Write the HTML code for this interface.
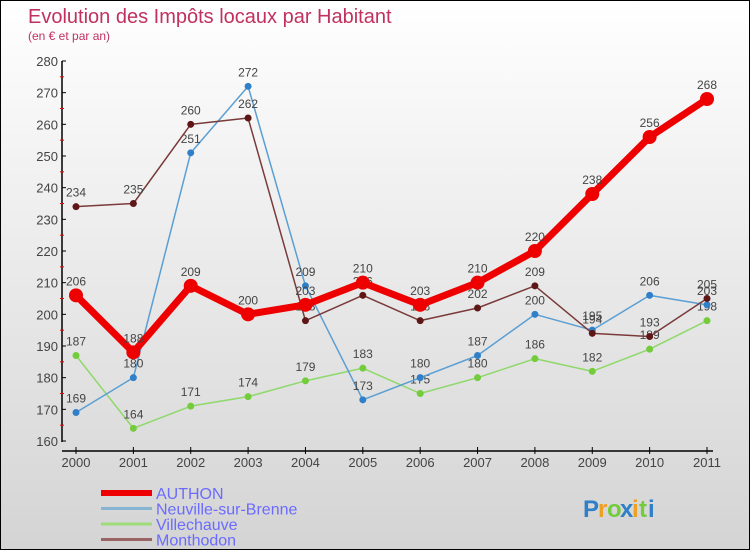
<!DOCTYPE html>
<html><head><meta charset="utf-8"><style>
body{margin:0;}
#c{width:750px;height:550px;position:relative;box-sizing:border-box;border:1px solid #000;background:linear-gradient(#fff,#d4d4d4);font-family:"Liberation Sans",sans-serif;overflow:hidden}
svg{position:absolute;left:0;top:0}
</style></head><body>
<div id="c">
<svg id="s" width="750" height="550">
<text x="27" y="22" font-size="20" fill="#c0315f">Evolution des Impôts locaux par Habitant</text>
<text x="27" y="39" font-size="12" fill="#c0315f">(en € et par an)</text>
</svg>
</div>
<script>
const years=["2000","2001","2002","2003","2004","2005","2006","2007","2008","2009","2010","2011"];
const authon=[206,188,209,200,203,210,203,210,220,238,256,268];
const neuville=[169,180,251,272,209,173,180,187,200,195,206,203];
const villechauve=[187,164,171,174,179,183,175,180,186,182,189,198];
const monthodon=[234,235,260,262,198,206,198,202,209,194,193,205];
const yTicks=[160,170,180,190,200,210,220,230,240,250,260,270,280];
const NS="http://www.w3.org/2000/svg";
const s=document.getElementById('s');
function X(i){return 75+i*(706-75)/(years.length-1);}
function Y(v){return 440-(v-160)*380/120;}
function el(t,a,txt){const e=document.createElementNS(NS,t);for(const k in a)e.setAttribute(k,a[k]);if(txt!==undefined)e.textContent=txt;s.appendChild(e);return e;}
let e;
e=el('line',{x1:61,y1:60,x2:61,y2:441,stroke:'#000','stroke-width':1.5});


e=el('line',{x1:61,y1:450,x2:712,y2:450,stroke:'#000','stroke-width':1.5});


yTicks.forEach((v,i)=>{
 e=el('line',{x1:61,y1:Y(v),x2:65,y2:Y(v),stroke:'#000'});
 
 
 e=el('text',{x:57,y:Y(v)+5,'font-size':13,fill:'#444','text-anchor':'end'},v);
 
 
 if(i<yTicks.length-1){
  e=el('line',{x1:59,y1:Y(v+5),x2:63,y2:Y(v+5),stroke:'#e00'});
  
  
 }
});
years.forEach((y,i)=>{
 e=el('line',{x1:X(i),y1:446,x2:X(i),y2:453,stroke:'#000'});
 
 
 e=el('text',{x:X(i),y:466,'font-size':13,fill:'#444','text-anchor':'middle'},y);
 
 
});
function series(data,color,w,r,name,dot){
 const g=el('g',{});
 
 
 const p=document.createElementNS(NS,'polyline');
 p.setAttribute('points',data.map((v,i)=>X(i)+','+Y(v)).join(' '));
 p.setAttribute('fill','none');p.setAttribute('stroke',color);p.setAttribute('stroke-width',w);p.setAttribute('stroke-linejoin','round');
 
 
 g.appendChild(p);
 data.forEach((v,i)=>{
  const c=document.createElementNS(NS,'circle');
  c.setAttribute('cx',X(i));c.setAttribute('cy',Y(v));c.setAttribute('r',r);c.setAttribute('fill',dot);
  
  
  g.appendChild(c);
  const t=document.createElementNS(NS,'text');
  t.setAttribute('x',X(i));t.setAttribute('y',Y(v)-10);t.setAttribute('font-size',12);t.setAttribute('fill','#444');t.setAttribute('text-anchor','middle');
  t.textContent=v;
  
  
  g.appendChild(t);
 });
}
series(villechauve,'#8fd86a',1.5,3.5,'villechauve','#72cc3c');
series(neuville,'#5a9fd4',1.5,3.5,'neuville','#2f80c8');
series(monthodon,'#7a3a3a',1.5,3.5,'monthodon','#5e1616');
series(authon,'#ee0000',7,7,'authon','#ee0000');
const leg=[["AUTHON","#ee0000",6],["Neuville-sur-Brenne","#88b4d4",3],["Villechauve","#9edc7a",3],["Monthodon","#9a6464",3]];
leg.forEach((l,i)=>{
 const yy=492+i*15.5;
 e=el('line',{x1:100,y1:yy,x2:151,y2:yy,stroke:l[1],'stroke-width':l[2]});
 
 
 e=el('text',{x:155,y:yy+6,'font-size':16,fill:'#6b6bff'},l[0]);
 
 
});
const logo=[["P","#2f80c8"],["r","#f0a020"],["o","#72cc3c"],["x","#2f80c8"],["i","#f0a020"],["t","#72cc3c"],["i","#2f80c8"]];
let lx=582;
const lw=[15,9,13,12,7,9,7];
logo.forEach((c,i)=>{
 e=el('text',{x:lx,y:516,'font-size':24,'font-weight':'bold',fill:c[1]},c[0]);
 
 
 lx+=lw[i];
});
</script>
</body></html>
